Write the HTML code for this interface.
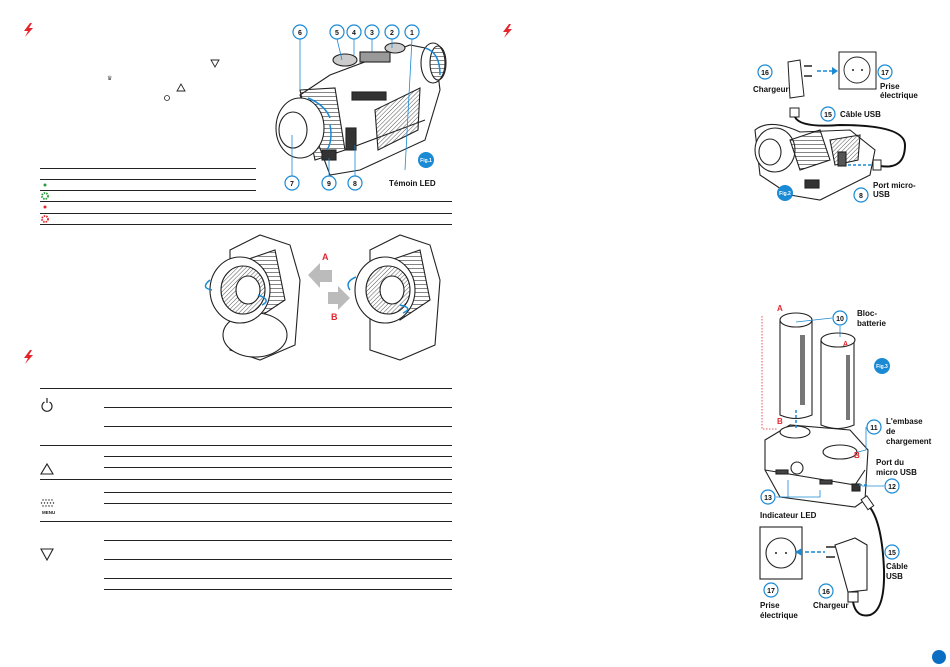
<!DOCTYPE html>
<html><head><meta charset="utf-8"><style>
html,body{margin:0;padding:0;background:#fff;}
svg{display:block}
text{font-family:"Liberation Sans",sans-serif;}
.lbl{font-size:8px;font-weight:bold;fill:#111;font-family:"Liberation Sans",sans-serif;}
.num{font-size:7px;font-weight:bold;fill:#111;text-anchor:middle;}
</style></head><body>
<svg width="950" height="667" viewBox="0 0 950 667" xmlns="http://www.w3.org/2000/svg">
<defs>
<g id="bolt"><path d="M6 0 L0 8 L4 8 L1 14 L9 5 L5 5 L8 0 Z" fill="#e3262e"/></g>
<pattern id="hatch" width="3" height="3" patternUnits="userSpaceOnUse" patternTransform="rotate(45)">
<line x1="0" y1="0" x2="0" y2="3" stroke="#555" stroke-width="1"/></pattern>
<pattern id="ribs" width="4" height="4" patternUnits="userSpaceOnUse">
<line x1="0" y1="0" x2="4" y2="0" stroke="#333" stroke-width="1.2"/></pattern>
</defs>
<rect width="950" height="667" fill="#fff"/>
<use href="#bolt" x="24" y="23"/>
<use href="#bolt" x="24" y="350"/>
<use href="#bolt" x="503" y="24"/>

<path d="M211 60 L219 60 L215 67 Z" fill="none" stroke="#222" stroke-width="0.9"/>
<text x="107" y="80" font-size="6" fill="#444">♛</text>
<path d="M177 91 L185 91 L181 84 Z" fill="none" stroke="#222" stroke-width="0.9"/>
<circle cx="167" cy="98" r="2.5" fill="none" stroke="#222" stroke-width="0.8"/>

<g stroke="#222" stroke-width="1" shape-rendering="crispEdges">
<line x1="40" y1="168.5" x2="256" y2="168.5"/>
<line x1="40" y1="179.5" x2="256" y2="179.5"/>
<line x1="40" y1="190.5" x2="256" y2="190.5"/>
<line x1="40" y1="201.5" x2="452" y2="201.5"/>
<line x1="40" y1="213.5" x2="452" y2="213.5"/>
<line x1="40" y1="224.5" x2="452" y2="224.5"/>
</g>
<circle cx="45" cy="185" r="1.5" fill="#2a9a3a"/>
<circle cx="45" cy="196" r="3" fill="none" stroke="#2a9a3a" stroke-width="1.8" stroke-dasharray="1.5 1"/>
<circle cx="45" cy="207" r="1.5" fill="#e3262e"/>
<circle cx="45" cy="219" r="3" fill="none" stroke="#e3262e" stroke-width="1.8" stroke-dasharray="1.5 1"/>

<!-- monocular figure 1 -->
<g stroke="#222" stroke-width="1.1" fill="#fff">
<path d="M300 95 L330 75 L410 45 L435 50 L440 90 L425 140 L360 170 L330 175 Z"/>
<path d="M345 150 L425 120" fill="none"/>
<ellipse cx="433" cy="63" rx="12" ry="20" fill="#fff"/>
<ellipse cx="438" cy="63" rx="8" ry="17" fill="url(#ribs)"/>
<path d="M300 90 L335 88 L345 150 L315 160 Z" fill="url(#ribs)"/>
<ellipse cx="300" cy="128" rx="24" ry="30" fill="#fff"/>
<ellipse cx="293" cy="130" rx="14" ry="18" fill="#fff"/>
<ellipse cx="345" cy="60" rx="12" ry="6" fill="#ccc"/>
<rect x="360" y="52" width="30" height="10" fill="#999"/>
<ellipse cx="395" cy="48" rx="10" ry="5" fill="#ccc"/>
<path d="M375 110 L420 88 L418 130 L378 150 Z" fill="url(#hatch)"/>
<rect x="352" y="92" width="34" height="8" fill="#333"/>
<rect x="346" y="128" width="10" height="22" fill="#333"/>
<rect x="322" y="150" width="14" height="10" fill="#333"/>
</g>
<g fill="none" stroke="#1a8ad4" stroke-width="1.5">
<path d="M308 98 Q325 105 330 118"/>
<path d="M330 125 Q333 140 327 150"/>
<path d="M425 48 Q440 52 440 75"/>
</g>
<g stroke="#1a8ad4" stroke-width="0.8">
<line x1="300" y1="39" x2="300" y2="90"/>
<line x1="337" y1="39" x2="342" y2="60"/>
<line x1="354" y1="39" x2="354" y2="55"/>
<line x1="372" y1="39" x2="372" y2="52"/>
<line x1="392" y1="39" x2="392" y2="48"/>
<line x1="412" y1="39" x2="405" y2="170"/>
<line x1="292" y1="176" x2="292" y2="135"/>
<line x1="329" y1="176" x2="329" y2="158"/>
<line x1="355" y1="176" x2="355" y2="145"/>
</g>
<g fill="#fff" stroke="#1a8ad4" stroke-width="1.2">
<circle cx="300" cy="32" r="7"/><circle cx="337" cy="32" r="7"/><circle cx="354" cy="32" r="7"/>
<circle cx="372" cy="32" r="7"/><circle cx="392" cy="32" r="7"/><circle cx="412" cy="32" r="7"/>
<circle cx="292" cy="183" r="7"/><circle cx="329" cy="183" r="7"/><circle cx="355" cy="183" r="7"/>
</g>
<text x="300" y="35" class="num">6</text><text x="337" y="35" class="num">5</text><text x="354" y="35" class="num">4</text>
<text x="372" y="35" class="num">3</text><text x="392" y="35" class="num">2</text><text x="412" y="35" class="num">1</text>
<text x="292" y="186" class="num">7</text><text x="329" y="186" class="num">9</text><text x="355" y="186" class="num">8</text>
<text x="389" y="186" class="lbl" font-size="7">Témoin LED</text>
<circle cx="426" cy="160" r="8" fill="#1a8ad4"/>
<text x="426" y="162" font-size="5" fill="#fff" text-anchor="middle" font-weight="bold">Fig.1</text>

<!-- rings illustration -->
<g stroke="#222" stroke-width="1.1" fill="#fff">
<path d="M230 250 L260 235 L290 245 L300 280 L295 345 L260 360 L230 350 Z"/>
<path d="M240 262 L275 250 L285 300 L255 320 Z" fill="url(#ribs)"/>
<ellipse cx="255" cy="335" rx="32" ry="22" fill="#fff"/>
<ellipse cx="240" cy="290" rx="30" ry="33" fill="#fff"/>
<ellipse cx="243" cy="290" rx="22" ry="24" fill="url(#hatch)"/>
<ellipse cx="248" cy="290" rx="12" ry="14" fill="#fff"/>
<path d="M370 250 L400 235 L430 245 L440 280 L435 345 L400 360 L370 350 Z"/>
<path d="M385 262 L420 250 L430 300 L400 320 Z" fill="url(#ribs)"/>
<ellipse cx="385" cy="290" rx="30" ry="33" fill="#fff"/>
<ellipse cx="388" cy="290" rx="22" ry="24" fill="url(#hatch)"/>
<ellipse cx="392" cy="290" rx="12" ry="14" fill="#fff"/>
</g>
<g fill="none" stroke="#1a8ad4" stroke-width="1.5">
<path d="M210 280 Q200 288 212 290"/><path d="M258 295 Q272 300 262 305"/>
<path d="M356 277 Q344 282 350 290"/><path d="M400 305 Q414 308 403 313"/>
</g>
<path d="M308 275 L320 263 L320 270 L332 270 L332 282 L320 282 L320 288 Z" fill="#bbb"/>
<path d="M350 298 L338 286 L338 292 L328 292 L328 304 L338 304 L338 310 Z" fill="#bbb"/>
<text x="322" y="260" font-size="9" font-weight="bold" fill="#e3262e">A</text>
<text x="331" y="320" font-size="9" font-weight="bold" fill="#e3262e">B</text>

<!-- bottom table -->
<g stroke="#222" stroke-width="1" shape-rendering="crispEdges">
<line x1="40" y1="388.5" x2="452" y2="388.5"/>
<line x1="104" y1="407.5" x2="452" y2="407.5"/>
<line x1="104" y1="426.5" x2="452" y2="426.5"/>
<line x1="40" y1="445.5" x2="452" y2="445.5"/>
<line x1="104" y1="456.5" x2="452" y2="456.5"/>
<line x1="104" y1="467.5" x2="452" y2="467.5"/>
<line x1="40" y1="479.5" x2="452" y2="479.5"/>
<line x1="104" y1="492.5" x2="452" y2="492.5"/>
<line x1="104" y1="503.5" x2="452" y2="503.5"/>
<line x1="40" y1="521.5" x2="452" y2="521.5"/>
<line x1="104" y1="540.5" x2="452" y2="540.5"/>
<line x1="104" y1="559.5" x2="452" y2="559.5"/>
<line x1="104" y1="578.5" x2="452" y2="578.5"/>
<line x1="104" y1="589.5" x2="452" y2="589.5"/>
</g>
<path d="M44.5 402 A5 5 0 1 0 49.5 402" fill="none" stroke="#222" stroke-width="1.2"/>
<line x1="47" y1="398" x2="47" y2="403" stroke="#222" stroke-width="1.2"/>
<path d="M41 474 L53 474 L47 464 Z" fill="none" stroke="#222" stroke-width="1.1"/>
<g fill="#222">
<circle cx="43" cy="500" r="0.7"/><circle cx="46" cy="500" r="0.7"/><circle cx="49" cy="500" r="0.7"/><circle cx="52" cy="500" r="0.7"/>
<circle cx="41.5" cy="503" r="0.7"/><circle cx="44.5" cy="503" r="0.7"/><circle cx="47.5" cy="503" r="0.7"/><circle cx="50.5" cy="503" r="0.7"/><circle cx="53.5" cy="503" r="0.7"/>
<circle cx="43" cy="506" r="0.7"/><circle cx="46" cy="506" r="0.7"/><circle cx="49" cy="506" r="0.7"/><circle cx="52" cy="506" r="0.7"/>
</g>
<text x="42" y="514" font-size="4.5" font-weight="bold" fill="#222">MENU</text>
<path d="M41 549 L53 549 L47 560 Z" fill="none" stroke="#222" stroke-width="1.1"/>

<!-- Fig 2 -->
<rect x="839" y="52" width="37" height="37" fill="#fff" stroke="#222" stroke-width="1"/>
<circle cx="857" cy="70" r="13" fill="none" stroke="#222" stroke-width="0.9"/>
<circle cx="853" cy="70" r="1" fill="#222"/><circle cx="862" cy="70" r="1" fill="#222"/>
<path d="M788 62 L800 60 L804 96 L790 98 Z" fill="#fff" stroke="#222"/>
<line x1="804" y1="66" x2="812" y2="66" stroke="#222" stroke-width="1.5"/>
<line x1="804" y1="76" x2="812" y2="76" stroke="#222" stroke-width="1.5"/>
<line x1="817" y1="71" x2="836" y2="71" stroke="#1a8ad4" stroke-width="1.5" stroke-dasharray="4 2"/>
<path d="M838 71 L832 67 L832 75 Z" fill="#1a8ad4"/>
<rect x="790" y="108" width="9" height="9" fill="#fff" stroke="#222"/>
<path d="M795 117 Q800 128 840 125 Q905 125 905 145 Q905 170 880 166" fill="none" stroke="#111" stroke-width="2"/>
<rect x="873" y="160" width="8" height="10" fill="#fff" stroke="#222"/>
<g stroke="#222" stroke-width="1.1" fill="#fff">
<path d="M755 130 Q770 118 800 132 L850 130 L875 150 L870 175 L840 190 L820 200 L790 195 L760 175 Z"/>
<path d="M830 140 L860 135 L858 160 L835 165 Z" fill="url(#hatch)"/>
<ellipse cx="775" cy="150" rx="20" ry="22" fill="#fff"/>
<ellipse cx="770" cy="152" rx="11" ry="13" fill="#fff"/>
<path d="M790 140 L820 130 L830 160 L800 170 Z" fill="url(#ribs)"/>
<rect x="805" y="180" width="14" height="8" fill="#333"/>
<rect x="838" y="152" width="8" height="14" fill="#555"/>
</g>
<line x1="848" y1="165" x2="872" y2="165" stroke="#1a8ad4" stroke-width="1.5" stroke-dasharray="3 2"/>
<g fill="#fff" stroke="#1a8ad4" stroke-width="1.2">
<circle cx="765" cy="72" r="7"/><circle cx="885" cy="72" r="7"/><circle cx="828" cy="114" r="7"/><circle cx="861" cy="195" r="7"/>
</g>
<text x="765" y="75" class="num">16</text><text x="885" y="75" class="num">17</text><text x="828" y="117" class="num">15</text><text x="861" y="198" class="num">8</text>
<text x="753" y="92" class="lbl" font-size="7">Chargeur</text>
<text x="880" y="89" class="lbl" font-size="7">Prise</text>
<text x="880" y="98" class="lbl" font-size="7">électrique</text>
<text x="840" y="117" class="lbl" font-size="7">Câble USB</text>
<text x="873" y="188" class="lbl" font-size="7">Port micro-</text>
<text x="873" y="197" class="lbl" font-size="7">USB</text>
<circle cx="785" cy="193" r="8" fill="#1a8ad4"/>
<text x="785" y="195" font-size="5" fill="#fff" text-anchor="middle" font-weight="bold">Fig.2</text>

<!-- Fig 3 -->
<path d="M762 316 L762 429 L778 429" fill="none" stroke="#e3262e" stroke-width="0.8" stroke-dasharray="1.5 1.5"/>
<g stroke="#222" stroke-width="1.1" fill="#fff">
<path d="M780 320 L780 415 Q796 422 812 415 L812 320 Z"/>
<rect x="800" y="335" width="5" height="70" fill="#777" stroke="none"/>
<ellipse cx="796" cy="320" rx="16" ry="7"/>
<path d="M821 340 L821 425 Q838 432 854 425 L854 340 Z"/>
<rect x="846" y="355" width="4" height="65" fill="#777" stroke="none"/>
<ellipse cx="838" cy="340" rx="17" ry="7"/>
<path d="M765 440 L790 425 L850 430 L868 450 L865 500 L855 507 L780 497 L765 470 Z"/>
<path d="M765 470 L855 485 L865 470" fill="none"/>
<ellipse cx="795" cy="432" rx="15" ry="6"/>
<ellipse cx="840" cy="452" rx="17" ry="7"/>
<circle cx="797" cy="468" r="6"/>
<rect x="776" y="470" width="12" height="4" fill="#444"/>
<rect x="820" y="480" width="12" height="4" fill="#444"/>
<rect x="852" y="484" width="8" height="7" fill="#333"/>
<rect x="760" y="527" width="42" height="52"/>
<circle cx="781" cy="553" r="15"/>
<path d="M835 545 L855 538 L867 545 L867 590 L848 592 Z"/>
<rect x="848" y="592" width="10" height="10"/>
</g>
<circle cx="776" cy="553" r="1" fill="#222"/><circle cx="786" cy="553" r="1" fill="#222"/>
<line x1="826" y1="547" x2="835" y2="547" stroke="#222" stroke-width="1.5"/>
<line x1="826" y1="557" x2="835" y2="557" stroke="#222" stroke-width="1.5"/>
<line x1="805" y1="552" x2="825" y2="552" stroke="#1a8ad4" stroke-width="1.5" stroke-dasharray="4 2"/>
<path d="M795 552 L802 548 L802 556 Z" fill="#1a8ad4"/>
<path d="M853 602 Q856 618 870 615 Q885 610 884 570 Q882 520 868 505" fill="none" stroke="#111" stroke-width="2"/>
<rect x="864" y="497" width="7" height="12" fill="#fff" stroke="#222" transform="rotate(-35 867 503)"/>
<line x1="796" y1="410" x2="796" y2="428" stroke="#1a8ad4" stroke-width="1.5" stroke-dasharray="3 2"/>
<path d="M867 485 L858 485" stroke="#1a8ad4" stroke-width="1.5" stroke-dasharray="3 2"/>
<g stroke="#1a8ad4" stroke-width="0.8" fill="none">
<path d="M796 322 L832 318"/><path d="M840 326 L840 337"/>
<path d="M866 427 L866 450 L858 452"/><path d="M884 486 L862 486"/>
<path d="M776 497 L788 497 L788 480"/><path d="M788 497 L820 497 L820 490"/>
</g>
<g fill="#fff" stroke="#1a8ad4" stroke-width="1.2">
<circle cx="840" cy="318" r="7"/><circle cx="874" cy="427" r="7"/><circle cx="892" cy="486" r="7"/>
<circle cx="768" cy="497" r="7"/><circle cx="892" cy="552" r="7"/><circle cx="771" cy="590" r="7"/><circle cx="826" cy="591" r="7"/>
</g>
<text x="840" y="321" class="num">10</text><text x="874" y="430" class="num">11</text><text x="892" y="489" class="num">12</text>
<text x="768" y="500" class="num">13</text><text x="892" y="555" class="num">15</text><text x="771" y="593" class="num">17</text><text x="826" y="594" class="num">16</text>
<text x="777" y="311" font-size="8" font-weight="bold" fill="#e3262e">A</text>
<text x="843" y="346" font-size="7" font-weight="bold" fill="#e3262e">A</text>
<text x="777" y="424" font-size="8" font-weight="bold" fill="#e3262e">B</text>
<text x="854" y="458" font-size="8" font-weight="bold" fill="#e3262e">B</text>
<text x="857" y="316" class="lbl" font-size="7">Bloc-</text>
<text x="857" y="326" class="lbl" font-size="7">batterie</text>
<text x="886" y="424" class="lbl" font-size="7">L'embase</text>
<text x="886" y="434" class="lbl" font-size="7">de</text>
<text x="886" y="444" class="lbl" font-size="7">chargement</text>
<text x="876" y="465" class="lbl" font-size="7">Port du</text>
<text x="876" y="475" class="lbl" font-size="7">micro USB</text>
<text x="760" y="518" class="lbl" font-size="7">Indicateur LED</text>
<text x="886" y="569" class="lbl" font-size="7">Câble</text>
<text x="886" y="579" class="lbl" font-size="7">USB</text>
<text x="760" y="608" class="lbl" font-size="7">Prise</text>
<text x="760" y="618" class="lbl" font-size="7">électrique</text>
<text x="813" y="608" class="lbl" font-size="7">Chargeur</text>
<circle cx="882" cy="366" r="8" fill="#1a8ad4"/>
<text x="882" y="368" font-size="5" fill="#fff" text-anchor="middle" font-weight="bold">Fig.3</text>

<circle cx="939" cy="657" r="7" fill="#0a6fc2"/>
</svg>
</body></html>
